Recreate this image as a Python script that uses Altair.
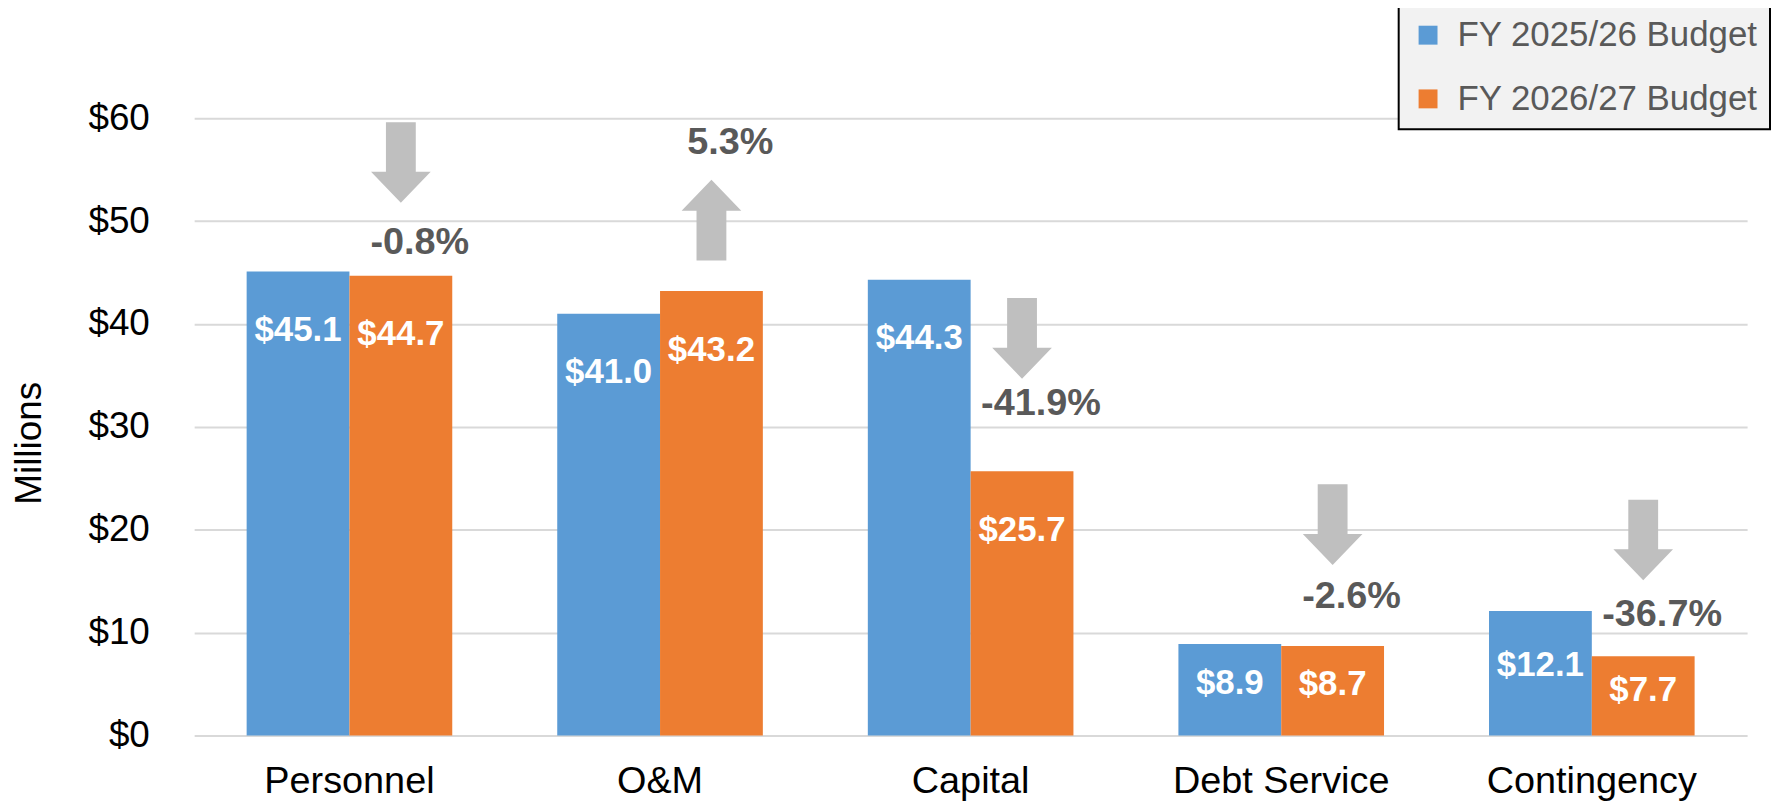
import altair as alt
import pandas as pd

categories = ["Personnel", "O&M", "Capital", "Debt Service", "Contingency"]
series = ["FY 2025/26 Budget", "FY 2026/27 Budget"]
budget_2526 = [45.1, 41.0, 44.3, 8.9, 12.1]
budget_2627 = [44.7, 43.2, 25.7, 8.7, 7.7]
pct_change_labels = ["-0.8%", "5.3%", "-41.9%", "-2.6%", "-36.7%"]
arrow_level = [55.7, 50.1, 38.6, 20.5, 19.0]
pct_label_level = [47.9, 57.6, 32.2, 13.5, 11.7]
y_ticks = [0, 10, 20, 30, 40, 50, 60]

FONT = "Liberation Sans"
BLUE = "#5B9BD5"
ORANGE = "#ED7D31"
ARROW = "#BFBFBF"

rows = []
for c, a, b in zip(categories, budget_2526, budget_2627):
    rows.append({"category": c, "series": series[0], "value": a})
    rows.append({"category": c, "series": series[1], "value": b})
bars_df = pd.DataFrame(rows)

ann_df = pd.DataFrame({
    "category": categories,
    "series": [series[1]] * len(categories),
    "pct": pct_change_labels,
    "arrow_y": arrow_level,
    "label_y": pct_label_level,
})
ann_df["dir"] = ["down" if p.startswith("-") else "up" for p in pct_change_labels]

DOWN = "M -0.37 -1 L 0.37 -1 L 0.37 0.23 L 0.74 0.23 L 0 1 L -0.74 0.23 L -0.37 0.23 Z"
UP = "M -0.37 1 L 0.37 1 L 0.37 -0.23 L 0.74 -0.23 L 0 -1 L -0.74 -0.23 L -0.37 -0.23 Z"

x_enc = alt.X(
    "category:N",
    sort=categories,
    scale=alt.Scale(paddingInner=0.338, paddingOuter=0.169),
    axis=alt.Axis(
        title=None, labelAngle=0, labelFontSize=38, labelColor="black",
        labelFont=FONT, domain=False, ticks=False, tickSize=0, labelPadding=27,
        labelLimit=0,
    ),
)
xoff_enc = alt.XOffset("series:N", sort=series, scale=alt.Scale(paddingInner=0, paddingOuter=0))
y_scale = alt.Scale(domain=[0, 60], nice=False)

bars = alt.Chart(bars_df).mark_bar().encode(
    x=x_enc,
    xOffset=xoff_enc,
    y=alt.Y(
        "value:Q",
        scale=y_scale,
        axis=alt.Axis(
            values=y_ticks, labelExpr="'$' + datum.value", labelFontSize=37,
            labelColor="black", labelFont=FONT, domain=False, ticks=False, tickSize=0,
            labelPadding=45, grid=True, gridColor="#D9D9D9", gridWidth=2,
            title="Millions", titleFontSize=37, titleFontWeight="normal",
            titleColor="black", titleFont=FONT, titleAngle=-90, titleX=-165, titleY=326,
            titleAlign="center", titleBaseline="middle",
        ),
    ),
    color=alt.Color(
        "series:N",
        scale=alt.Scale(domain=series, range=[BLUE, ORANGE]),
        legend=alt.Legend(
            title=None, orient="none", legendX=1210, legendY=-113,
            fillColor="#F2F2F2", strokeColor="black", padding=12,
            labelFontSize=35, labelColor="#595959", labelFont=FONT, labelLimit=0,
            symbolType="square", symbolSize=361, symbolStrokeWidth=0,
            symbolOpacity=1, labelOffset=12, rowPadding=28,
        ),
    ),
)

bar_labels = alt.Chart(bars_df).transform_calculate(
    label_y="max(datum.value * 0.57, datum.value - 5.7)",
    txt="'$' + format(datum.value, '.1f')",
).mark_text(
    font=FONT, fontSize=35, fontWeight="bold", color="white", baseline="middle", align="center"
).encode(
    x=x_enc, xOffset=xoff_enc,
    y=alt.Y("label_y:Q", scale=y_scale),
    text="txt:N",
)

arrows = alt.Chart(ann_df).mark_point(
    filled=True, size=6561, color=ARROW, opacity=1, strokeWidth=0, xOffset=3
).encode(
    x=x_enc, xOffset=xoff_enc,
    y=alt.Y("arrow_y:Q", scale=y_scale),
    shape=alt.Shape("dir:N", scale=alt.Scale(domain=["down", "up"], range=[DOWN, UP]), legend=None),
)

pct_text = alt.Chart(ann_df).mark_text(
    font=FONT, fontSize=38, fontWeight="bold", color="#595959", baseline="middle",
    align="center", dx=19,
).encode(
    x=x_enc, xOffset=xoff_enc,
    y=alt.Y("label_y:Q", scale=y_scale),
    text="pct:N",
)

chart = alt.layer(bars, bar_labels, arrows, pct_text).properties(
    width=1560, height=620,
    padding={"left": 187, "top": 109, "right": 24, "bottom": 65},
    autosize=alt.AutoSizeParams(type="none"),
    background="white",
).configure_view(stroke=None).configure_axis(
    labelFont=FONT, titleFont=FONT
).configure_legend(strokeWidth=2)

chart.save("out.html", embed_options={"renderer": "svg", "actions": False})
